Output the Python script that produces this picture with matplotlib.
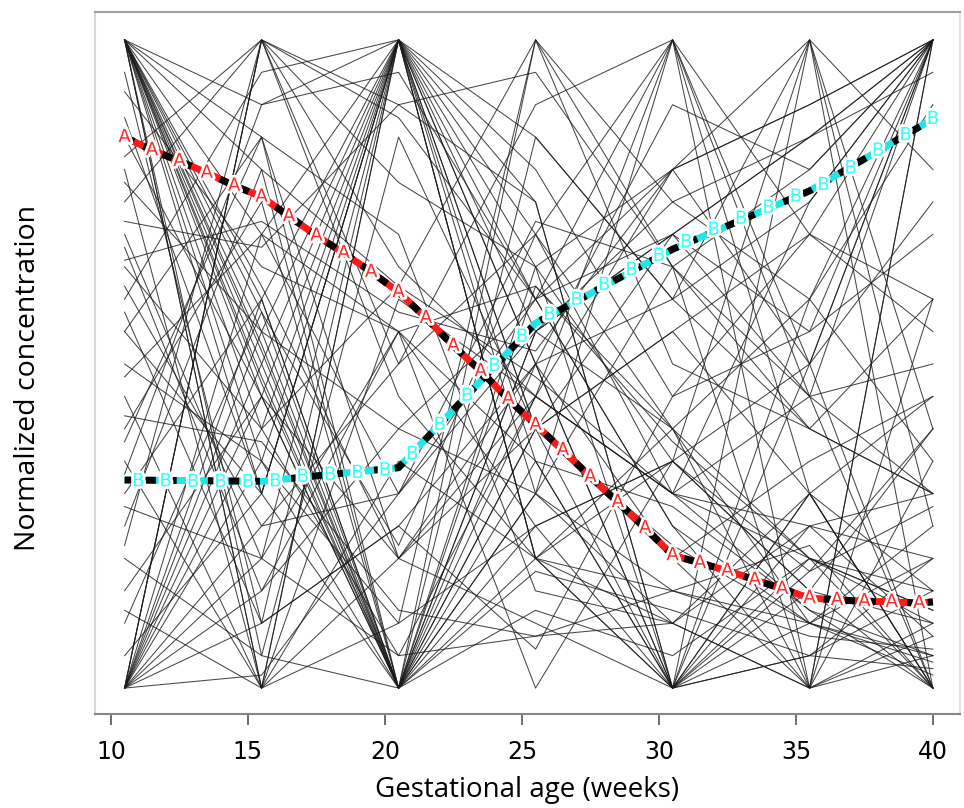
import matplotlib
matplotlib.use("Agg")
import matplotlib.pyplot as plt
import matplotlib.patheffects as pe

# ---------------- data ----------------
weeks = [10.5, 15.5, 20.5, 25.5, 30.5, 35.5, 40]

profiles = [
    [1.00, 0.52, 0.00, 0.35, 0.28, 0.12, 0.05],
    [1.00, 0.48, 0.00, 0.40, 0.22, 0.10, 0.02],
    [1.00, 0.55, 0.00, 0.30, 0.15, 0.08, 0.06],
    [1.00, 0.45, 0.00, 0.62, 0.38, 0.20, 0.10],
    [1.00, 0.50, 0.00, 0.18, 0.12, 0.05, 0.03],
    [1.00, 0.58, 0.00, 0.45, 0.30, 0.25, 0.08],
    [1.00, 0.00, 0.35, 0.20, 0.15, 0.10, 0.04],
    [1.00, 0.00, 0.60, 0.45, 0.30, 0.20, 0.12],
    [1.00, 0.05, 0.85, 0.40, 0.55, 0.30, 0.00],
    [1.00, 0.62, 0.20, 0.10, 0.00, 0.05, 0.15],
    [1.00, 0.70, 0.55, 0.35, 0.00, 0.10, 0.05],
    [1.00, 0.80, 0.62, 0.48, 0.30, 0.12, 0.00],
    [1.00, 0.40, 0.05, 0.08, 0.15, 0.22, 0.00],
    [1.00, 0.35, 0.10, 0.25, 0.00, 0.18, 0.28],
    [1.00, 0.60, 0.00, 0.55, 0.70, 0.45, 0.30],
    [1.00, 0.30, 0.00, 0.20, 0.40, 0.10, 0.25],
    [1.00, 0.85, 0.70, 0.15, 0.10, 0.30, 0.00],
    [1.00, 0.90, 0.95, 0.60, 0.25, 0.00, 0.10],
    [1.00, 0.47, 0.00, 0.12, 0.05, 0.20, 0.15],
    [1.00, 0.53, 0.00, 0.25, 0.35, 0.18, 0.40],
    [0.00, 1.00, 0.50, 0.70, 0.40, 0.60, 0.35],
    [0.00, 1.00, 0.65, 0.45, 0.80, 0.50, 0.75],
    [0.00, 0.50, 1.00, 0.40, 0.55, 0.70, 0.60],
    [0.00, 0.55, 1.00, 0.70, 0.30, 0.45, 0.50],
    [0.00, 0.45, 1.00, 0.20, 0.35, 0.15, 0.40],
    [0.00, 0.60, 1.00, 0.85, 0.60, 0.40, 0.30],
    [0.00, 1.00, 0.88, 0.60, 0.70, 0.85, 0.95],
    [0.00, 0.15, 0.40, 0.60, 0.80, 0.90, 1.00],
    [0.00, 0.25, 0.30, 0.55, 0.75, 0.85, 1.00],
    [0.00, 0.02, 0.30, 0.72, 0.65, 0.80, 1.00],
    [0.00, 0.35, 1.00, 0.30, 0.10, 0.25, 0.20],
    [0.00, 0.70, 1.00, 0.50, 0.20, 0.35, 0.45],
    [0.00, 0.40, 0.62, 1.00, 0.75, 0.60, 0.90],
    [0.00, 0.20, 0.05, 0.45, 1.00, 0.70, 0.55],
    [0.00, 0.10, 0.25, 0.50, 0.60, 1.00, 0.80],
    [0.75, 1.00, 0.45, 0.20, 0.10, 0.00, 0.05],
    [0.65, 0.40, 1.00, 0.20, 0.00, 0.15, 0.10],
    [0.55, 0.30, 1.00, 0.35, 0.00, 0.20, 0.12],
    [0.70, 0.20, 1.00, 0.50, 0.00, 0.25, 0.30],
    [0.45, 0.00, 1.00, 0.60, 0.25, 0.10, 0.20],
    [0.35, 0.00, 1.00, 0.80, 0.45, 0.55, 0.70],
    [0.60, 0.95, 1.00, 0.55, 0.40, 0.20, 0.00],
    [0.82, 1.00, 0.78, 0.65, 0.35, 0.15, 0.00],
    [0.25, 0.80, 0.00, 0.55, 0.70, 0.85, 1.00],
    [0.40, 0.75, 0.00, 0.65, 0.80, 0.90, 1.00],
    [0.30, 0.60, 0.00, 0.85, 0.60, 0.75, 1.00],
    [0.55, 0.85, 0.00, 0.40, 0.70, 0.55, 1.00],
    [0.20, 0.05, 0.00, 0.50, 0.90, 0.80, 1.00],
    [0.50, 0.35, 0.00, 0.30, 0.65, 0.45, 1.00],
    [0.15, 0.45, 0.00, 1.00, 0.50, 0.40, 0.60],
    [0.62, 0.25, 0.50, 0.90, 1.00, 0.30, 0.00],
    [0.78, 0.55, 0.40, 0.30, 1.00, 0.50, 0.00],
    [0.48, 0.70, 0.30, 0.60, 1.00, 0.45, 0.00],
    [0.38, 0.85, 0.20, 0.50, 0.00, 1.00, 0.25],
    [0.68, 0.15, 0.55, 0.25, 0.35, 1.00, 0.40],
    [0.85, 0.45, 0.20, 0.40, 0.00, 0.60, 1.00],
    [0.58, 0.10, 0.25, 0.06, 0.45, 0.70, 1.00],
    [0.28, 0.20, 0.55, 0.00, 0.35, 0.50, 1.00],
    [0.12, 0.00, 0.20, 0.45, 0.30, 0.75, 1.00],
    [0.92, 0.65, 0.55, 0.62, 0.40, 0.00, 1.00],
    [0.72, 0.68, 0.90, 0.75, 0.00, 0.50, 1.00],
    [0.42, 0.38, 0.12, 0.08, 0.10, 0.00, 1.00],
    [0.05, 0.30, 1.00, 0.20, 0.00, 0.30, 0.15],
    [0.88, 0.30, 1.00, 0.65, 0.00, 0.05, 0.20],
    [0.95, 0.10, 1.00, 0.40, 0.20, 0.00, 0.08],
    [0.33, 0.90, 1.00, 0.75, 0.00, 0.30, 0.45],
    [0.22, 1.00, 0.90, 0.95, 0.65, 0.00, 0.35],
    [0.80, 0.00, 0.10, 1.00, 0.65, 0.40, 0.30],
    [0.66, 0.72, 0.58, 0.52, 0.80, 1.00, 0.00],
    [0.10, 0.58, 0.22, 0.70, 1.00, 0.00, 0.60],
]

# cluster A (red) mean profile: line and marker positions
a_x = [10.5, 11.5, 12.5, 13.5, 14.5, 15.5, 16.5, 17.5, 18.5, 19.5,
       20.5, 21.5, 22.5, 23.5, 24.5, 25.5, 26.5, 27.5, 28.5, 29.5,
       30.5, 31.5, 32.5, 33.5, 34.5, 35.5, 36.5, 37.5, 38.5, 39.5, 40]
a_y = [0.850, 0.830, 0.813, 0.795, 0.775, 0.758, 0.728, 0.698, 0.671, 0.642,
       0.611, 0.571, 0.528, 0.489, 0.446, 0.406, 0.367, 0.326, 0.287, 0.247,
       0.205, 0.193, 0.181, 0.167, 0.153, 0.139, 0.136, 0.134, 0.133, 0.131, 0.133]

# cluster B (cyan) mean profile: knots of the line, then marker positions
b_knot_x = [10.5, 15.5, 20.5, 25.5, 30.5, 35.5, 40]
b_knot_y = [0.321, 0.319, 0.340, 0.563, 0.677, 0.767, 0.878]
b_mark_x = [11, 12, 13, 14, 15, 16, 17, 18, 19, 20,
            21, 22, 23, 24, 25, 26, 27, 28, 29, 30,
            31, 32, 33, 34, 35, 36, 37, 38, 39, 40]
b_mark_y = [0.319, 0.319, 0.318, 0.318, 0.318, 0.319, 0.326, 0.329, 0.332, 0.336,
            0.361, 0.406, 0.451, 0.497, 0.542, 0.576, 0.599, 0.622, 0.645, 0.667,
            0.688, 0.707, 0.724, 0.741, 0.758, 0.776, 0.802, 0.829, 0.853, 0.878]

xticks = [10, 15, 20, 25, 30, 35, 40]

# ---------------- plot ----------------
fig = plt.figure(figsize=(9.64, 8.08), dpi=100)
ax = fig.add_axes([95 / 964, (808 - 714) / 808, (960 - 95) / 964, (714 - 12) / 808])

for p in profiles:
    ax.plot(weeks, p, color="#1a1a1a", lw=0.75, alpha=0.8, zorder=2)

halo = [pe.withStroke(linewidth=4, foreground="white")]

# A line
ax.plot(a_x, a_y, color="#ff1a1a", lw=5, solid_capstyle="butt", zorder=3)
ax.plot(a_x, a_y, color="black", lw=5, dashes=(1.5, 1.5), zorder=4)
# B line
ax.plot(b_knot_x, b_knot_y, color="#22e5e5", lw=5, solid_capstyle="butt", zorder=3)
ax.plot(b_knot_x, b_knot_y, color="black", lw=5, dashes=(1.5, 1.5), zorder=4)

for x, y in zip(a_x[:-1], a_y[:-1]):
    ax.text(x, y, "A", color="#ff2a2a", fontsize=13, ha="center", va="center",
            family="DejaVu Sans", path_effects=halo, zorder=5)
for x, y in zip(b_mark_x, b_mark_y):
    ax.text(x, y, "B", color="#33ffff", fontsize=13, ha="center", va="center",
            family="DejaVu Sans", path_effects=halo, zorder=5)

ax.set_xlim(9.42, 40.99)
ax.set_ylim(-0.04, 1.043)
ax.set_xticks(xticks)
ax.set_xticklabels([str(t) for t in xticks], fontsize=17, family="Liberation Sans Narrow")
ax.set_yticks([])
ax.tick_params(axis="x", direction="out", length=8, width=1.2, color="#555555", pad=11)

ax.spines["left"].set_color("#d8d8d8")
ax.spines["right"].set_color("#e4e4e4")
ax.spines["top"].set_color("#a0a0a0")
ax.spines["bottom"].set_color("#888888")
for s in ax.spines.values():
    s.set_linewidth(1.5)

ax.set_xlabel("Gestational age (weeks)", fontsize=20, family="Open Sans", labelpad=8)
fig.text(28 / 964, 1 - 378 / 808, "Normalized concentration", rotation=90,
         fontsize=20.5, family="Open Sans", ha="center", va="center")

fig.savefig("out.png", dpi=100)
